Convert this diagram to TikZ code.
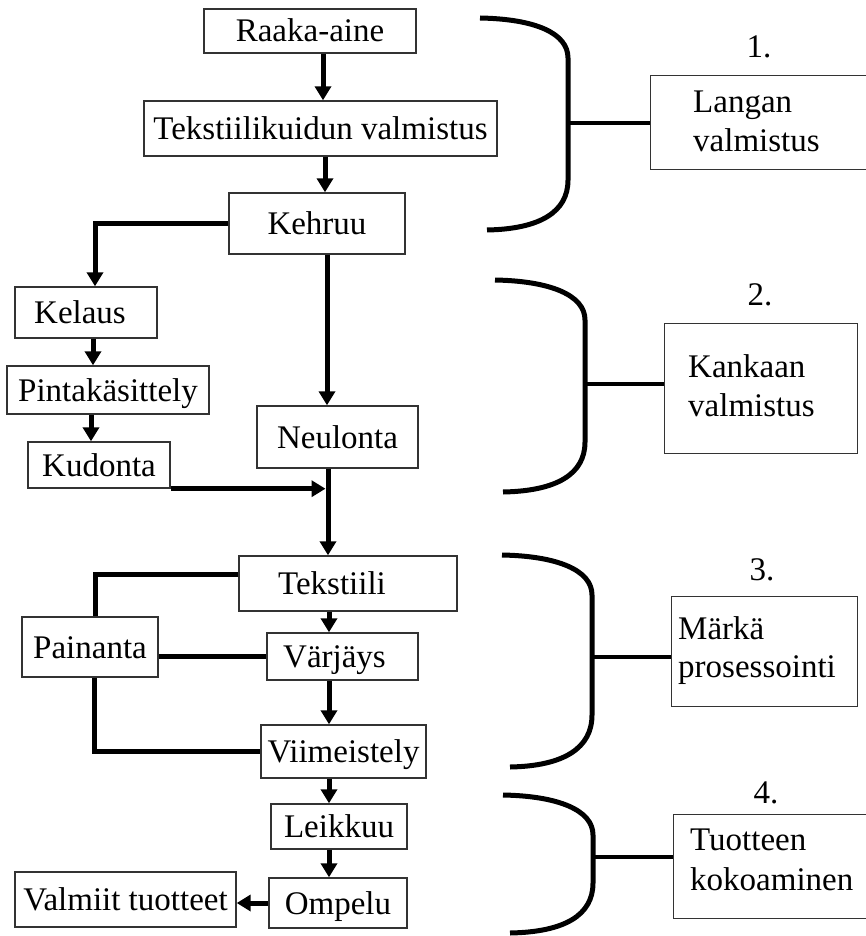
\documentclass[tikz,border=0pt]{standalone}
\usepackage{fontspec}
\setmainfont{Liberation Serif}
\usetikzlibrary{arrows.meta}
\begin{document}
\begin{tikzpicture}[x=1pt,y=-1pt,
  every node/.style={font=\fontsize{33}{38}\selectfont},
  box/.style={draw=black!80, line width=1.4pt, inner sep=0pt, text height=22pt, text depth=0pt},
  sidebox/.style={draw=black!80, line width=1.4pt, inner sep=0pt, anchor=north west},
  conn/.style={line width=5pt},
  arr/.style={conn, -{Triangle[width=16pt,length=14pt]}},
  brace/.style={line width=5pt, line cap=butt},
  tick/.style={line width=4.5pt},
  lbl/.style={inner sep=0pt, anchor=base west},
  num/.style={inner sep=0pt, anchor=base}
]
\useasboundingbox (0,0) rectangle (866,936);
\clip (0,0) rectangle (866,936);

% ---- process steps ----
\node[box, minimum width=212pt, minimum height=44pt] (raw) at (310,31) {Raaka-aine};
\node[box, minimum width=353pt, minimum height=55pt] (fib) at (320.5,128.5) {Tekstiilikuidun valmistus};
\node[box, minimum width=176pt, minimum height=61pt] (keh) at (317,223.5) {Kehruu};
\node[box, minimum width=142pt, minimum height=51pt] (kel) at (86,312.5) {Kelaus\hspace*{12pt}};
\node[box, minimum width=202pt, minimum height=48pt] (pin) at (108,390) {Pintakäsittely};
\node[box, minimum width=142pt, minimum height=46pt] (kud) at (99,465) {Kudonta};
\node[box, minimum width=161pt, minimum height=62pt] (neu) at (337.5,437) {Neulonta};
\node[box, minimum width=218pt, minimum height=55pt] (tex) at (348,583.5) {Tekstiili\hspace*{32pt}};
\node[box, minimum width=136pt, minimum height=60pt] (pai) at (90,647) {Painanta};
\node[box, minimum width=151pt, minimum height=47pt] (var) at (342.5,656.5) {Värjäys\hspace*{16pt}};
\node[box, minimum width=165pt, minimum height=53pt] (vii) at (343.5,751.5) {Viimeistely};
\node[box, minimum width=136pt, minimum height=45pt] (lei) at (339,826.5) {Leikkuu};
\node[box, minimum width=138pt, minimum height=50pt] (omp) at (338,903) {Ompelu};
\node[box, minimum width=221pt, minimum height=55pt] (val) at (125.5,899.5) {Valmiit tuotteet};

% ---- vertical guide lines of the main column ----
\coordinate (s1) at (323,0);
\coordinate (s2) at (325,0);
\coordinate (s3) at (327,0);
\coordinate (s4) at (328,0);
\coordinate (s5) at (329,0);

% ---- connectors ----
\draw[arr] (s1 |- raw.south) -- (s1 |- fib.north);
\draw[arr] (s2 |- fib.south) -- (s2 |- keh.north);
\draw[arr] (keh.west) -| ([xshift=9pt]kel.north);
\draw[arr] ([xshift=7pt]kel.south) -- ([xshift=7pt]kel.south |- pin.north);
\draw[arr] ([xshift=-17pt]pin.south) -- ([xshift=-17pt]pin.south |- kud.north);
\draw[arr] (s3 |- keh.south) -- (s3 |- neu.north);
\coordinate (join) at (s4 |- kud.south);
\coordinate (joinin) at ([xshift=-2.5pt]join);
\draw[arr] (kud.east |- join) -- (joinin);
\draw[arr] (s4 |- neu.south) -- (s4 |- tex.north);
\draw[conn] ([yshift=9.5pt]tex.west) -| ([xshift=5pt]pai.north);
\draw[conn] (var.west -| pai.east) -- (var.west);
\draw[conn] ([xshift=4pt]pai.south) |- (vii.west);
\draw[arr] (s5 |- tex.south) -- (s5 |- var.north);
\draw[arr] (s5 |- var.south) -- (s5 |- vii.north);
\draw[arr] (s5 |- vii.south) -- (s5 |- lei.north);
\draw[arr] (s5 |- lei.south) -- (s5 |- omp.north);
\draw[arr] (omp.west) -- (omp.west -| val.east);

% ---- phase boxes ----
\node[sidebox, minimum width=240pt, minimum height=94pt] (lab1) at (650,75) {};
\node[sidebox, minimum width=193pt, minimum height=130pt] (lab2) at (664,323) {};
\node[sidebox, minimum width=186pt, minimum height=110pt] (lab3) at (671,596) {};
\node[sidebox, minimum width=220pt, minimum height=104pt] (lab4) at (673,814) {};

\node[lbl] (l1a) at (693,113) {Langan};
\node[lbl] (l1b) at (693,152) {valmistus};
\node[lbl] (l2a) at (688,377) {Kankaan};
\node[lbl] (l2b) at (688,416) {valmistus};
\node[lbl] (l3a) at (678,639) {Märkä};
\node[lbl] (l3b) at (678,677) {prosessointi};
\node[lbl] (l4a) at (690,850) {Tuotteen};
\node[lbl] (l4b) at (690,890) {kokoaminen};

\node[num] (n1) at (759,58) {1.};
\node[num] (n2) at (760,305) {2.};
\node[num] (n3) at (762,580) {3.};
\node[num] (n4) at (766,803) {4.};

% ---- braces ----
\draw[brace] (480,18) .. controls (535,19) and (568,33) .. (568,58) -- (568,180)
  .. controls (568,212) and (540,229) .. (487,230);
\draw[brace] (495,280) .. controls (550,281) and (585,295) .. (585,320) -- (585,442)
  .. controls (585,474) and (557,491) .. (503,492);
\draw[brace] (502,555) .. controls (557,556) and (592,570) .. (592,595) -- (592,715)
  .. controls (592,748) and (564,766) .. (510,767);
\draw[brace] (503,795) .. controls (558,796) and (593,810) .. (593,835) -- (593,883)
  .. controls (593,915) and (565,932) .. (510,933);

\coordinate (b1) at (568,123);
\coordinate (b2) at (585,384);
\coordinate (b3) at (592,657);
\coordinate (b4) at (593,857);
\draw[tick] (b1) -- (b1 -| lab1.west);
\draw[tick] (b2) -- (b2 -| lab2.west);
\draw[tick] (b3) -- (b3 -| lab3.west);
\draw[tick] (b4) -- (b4 -| lab4.west);
\end{tikzpicture}
\end{document}
